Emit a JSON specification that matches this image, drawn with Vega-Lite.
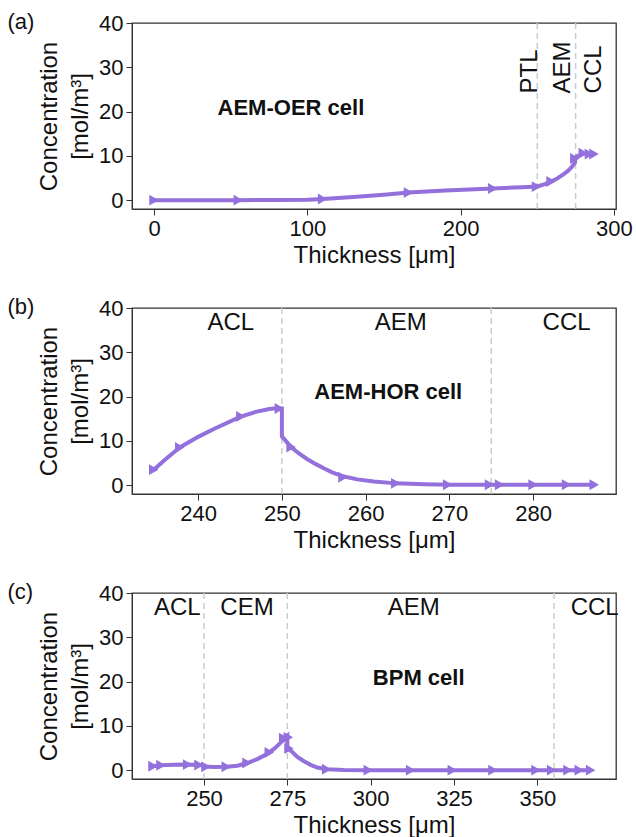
{
  "$schema": "https://vega.github.io/schema/vega-lite/v6.json",
  "background": "white",
  "padding": {"left": 6, "top": 10, "right": 2, "bottom": 2},
  "spacing": 27,
  "config": {
    "font": "Liberation Sans",
    "view": {"stroke": "#333333", "strokeWidth": 1.3},
    "axis": {"grid": false, "labelFontSize": 22, "titleFontSize": 24, "titleFontWeight": "normal", "labelColor": "#111111", "titleColor": "#111111", "tickColor": "#333333", "domainColor": "#333333", "tickSize": 6, "labelPadding": 3, "titleLineHeight": 31},
    "title": {"fontSize": 22, "fontWeight": "normal", "anchor": "start", "frame": "bounds", "color": "#111111"}
  },
  "datasets": {
    "a_line": [
      {"i": 1, "x": 0, "y": 0}, {"i": 2, "x": 20, "y": 0}, {"i": 3, "x": 55, "y": 0}, {"i": 4, "x": 80, "y": 0.02}, {"i": 5, "x": 100, "y": 0.1}, {"i": 6, "x": 110, "y": 0.25}, {"i": 7, "x": 130, "y": 0.7}, {"i": 8, "x": 150, "y": 1.2}, {"i": 9, "x": 166, "y": 1.7}, {"i": 10, "x": 190, "y": 2.2}, {"i": 11, "x": 221, "y": 2.65}, {"i": 12, "x": 240, "y": 2.9}, {"i": 13, "x": 250, "y": 3.1}, {"i": 14, "x": 255, "y": 3.6}, {"i": 15, "x": 259, "y": 4.2}, {"i": 16, "x": 263, "y": 4.9}, {"i": 17, "x": 267, "y": 5.8}, {"i": 18, "x": 270, "y": 6.6}, {"i": 19, "x": 272.5, "y": 7.5}, {"i": 20, "x": 274.5, "y": 8.4}, {"i": 21, "x": 275, "y": 9.6}, {"i": 22, "x": 276, "y": 9.9}, {"i": 23, "x": 278, "y": 10.2}, {"i": 24, "x": 280, "y": 10.6}, {"i": 25, "x": 282, "y": 10.4}, {"i": 26, "x": 284, "y": 10.4}, {"i": 27, "x": 287, "y": 10.4}
    ],
    "a_arrows": [
      {"x": 0, "y": 0}, {"x": 55, "y": 0}, {"x": 110, "y": 0.25}, {"x": 166, "y": 1.7}, {"x": 221, "y": 2.65}, {"x": 249.5, "y": 3.05}, {"x": 259, "y": 4.2}, {"x": 274.5, "y": 9.4}, {"x": 280, "y": 10.6}, {"x": 284, "y": 10.4}, {"x": 287, "y": 10.4}
    ],
    "b_line": [
      {"i": 1, "x": 234.7, "y": 3.5}, {"i": 2, "x": 236, "y": 5.7}, {"i": 3, "x": 237.8, "y": 8.5}, {"i": 4, "x": 240, "y": 10.9}, {"i": 5, "x": 242, "y": 12.8}, {"i": 6, "x": 245, "y": 15.4}, {"i": 7, "x": 247, "y": 16.6}, {"i": 8, "x": 248.5, "y": 17.2}, {"i": 9, "x": 249.6, "y": 17.4}, {"i": 10, "x": 250, "y": 17.3}, {"i": 11, "x": 250, "y": 11.0}, {"i": 12, "x": 251.1, "y": 8.6}, {"i": 13, "x": 252, "y": 7.2}, {"i": 14, "x": 253, "y": 5.9}, {"i": 15, "x": 254, "y": 4.8}, {"i": 16, "x": 255, "y": 3.8}, {"i": 17, "x": 256, "y": 2.9}, {"i": 18, "x": 257.3, "y": 2.0}, {"i": 19, "x": 259, "y": 1.3}, {"i": 20, "x": 261, "y": 0.8}, {"i": 21, "x": 263.6, "y": 0.4}, {"i": 22, "x": 267, "y": 0.2}, {"i": 23, "x": 270, "y": 0.1}, {"i": 24, "x": 275, "y": 0.08}, {"i": 25, "x": 280, "y": 0.08}, {"i": 26, "x": 287.3, "y": 0.08}
    ],
    "b_arrows": [
      {"x": 234.7, "y": 3.5}, {"x": 237.8, "y": 8.5}, {"x": 245.1, "y": 15.5}, {"x": 249.7, "y": 17.3}, {"x": 251.1, "y": 8.6}, {"x": 257.3, "y": 1.8}, {"x": 263.6, "y": 0.4}, {"x": 269.8, "y": 0.1}, {"x": 274.8, "y": 0.08}, {"x": 276, "y": 0.08}, {"x": 280, "y": 0.08}, {"x": 284, "y": 0.08}, {"x": 287.3, "y": 0.08}
    ],
    "c_line": [
      {"i": 1, "x": 234.7, "y": 0.9}, {"i": 2, "x": 237, "y": 1.1}, {"i": 3, "x": 241, "y": 1.2}, {"i": 4, "x": 245, "y": 1.25}, {"i": 5, "x": 249.5, "y": 1.1}, {"i": 6, "x": 250, "y": 0.8}, {"i": 7, "x": 253, "y": 0.7}, {"i": 8, "x": 257, "y": 0.75}, {"i": 9, "x": 260, "y": 1.0}, {"i": 10, "x": 263, "y": 1.6}, {"i": 11, "x": 266, "y": 2.5}, {"i": 12, "x": 269, "y": 3.7}, {"i": 13, "x": 271, "y": 4.8}, {"i": 14, "x": 273, "y": 6.2}, {"i": 15, "x": 274.5, "y": 7.5}, {"i": 16, "x": 275, "y": 7.8}, {"i": 17, "x": 275, "y": 5.0}, {"i": 18, "x": 276.5, "y": 4.1}, {"i": 19, "x": 278, "y": 3.0}, {"i": 20, "x": 280, "y": 2.0}, {"i": 21, "x": 282, "y": 1.2}, {"i": 22, "x": 284, "y": 0.6}, {"i": 23, "x": 287, "y": 0.2}, {"i": 24, "x": 292, "y": 0.05}, {"i": 25, "x": 300, "y": 0}, {"i": 26, "x": 366, "y": 0}
    ],
    "c_arrows": [
      {"x": 234.7, "y": 0.9}, {"x": 237.1, "y": 1.1}, {"x": 245.1, "y": 1.25}, {"x": 248.5, "y": 1.15}, {"x": 250.6, "y": 0.75}, {"x": 256.7, "y": 0.75}, {"x": 262.9, "y": 1.6}, {"x": 269.6, "y": 4.0}, {"x": 273.9, "y": 7.2}, {"x": 275.3, "y": 7.4}, {"x": 275.5, "y": 4.9}, {"x": 286.8, "y": 0.2}, {"x": 299.3, "y": 0}, {"x": 312, "y": 0}, {"x": 324.5, "y": 0}, {"x": 336.7, "y": 0}, {"x": 349.6, "y": 0}, {"x": 354.3, "y": 0}, {"x": 359.2, "y": 0}, {"x": 362.6, "y": 0}, {"x": 366, "y": 0}
    ]
  },
  "vconcat": [
    {
      "width": 484, "height": 186,
      "title": {"text": "(a)", "dx": -30, "offset": -22},
      "layer": [
        {
          "data": {"values": [{"x": 250}, {"x": 275}]},
          "mark": {"type": "rule", "color": "#cccccc", "strokeDash": [6, 4], "strokeWidth": 1.5},
          "encoding": {"x": {"field": "x", "type": "quantitative", "scale": {"domain": [-14.35, 301.35], "nice": false, "zero": false}, "axis": {"values": [0, 100, 200, 300], "title": "Thickness [μm]"}}}
        },
        {
          "data": {"name": "a_line"},
          "mark": {"type": "line", "color": "#9370DB", "strokeWidth": 4},
          "encoding": {
            "x": {"field": "x", "type": "quantitative", "scale": {"domain": [-14.35, 301.35], "nice": false, "zero": false}, "axis": {"values": [0, 100, 200, 300], "title": "Thickness [μm]"}},
            "y": {"field": "y", "type": "quantitative", "scale": {"domain": [-2, 40], "nice": false, "zero": false}, "axis": {"values": [0, 10, 20, 30, 40], "title": ["Concentration", "[mol/m³]"], "titlePadding": 6}},
            "order": {"field": "i", "type": "quantitative"}
          }
        },
        {
          "data": {"name": "a_arrows"},
          "mark": {"type": "point", "shape": "triangle-right", "filled": true, "color": "#9370DB", "size": 120, "opacity": 1},
          "encoding": {"x": {"field": "x", "type": "quantitative"}, "y": {"field": "y", "type": "quantitative"}}
        },
        {
          "data": {"values": [{"x": 245.3, "y": 24.1, "label": "PTL"}, {"x": 266.7, "y": 24.1, "label": "AEM"}, {"x": 287.2, "y": 24.1, "label": "CCL"}]},
          "mark": {"type": "text", "angle": 270, "align": "left", "baseline": "middle", "fontSize": 24, "color": "#111111"},
          "encoding": {"x": {"field": "x", "type": "quantitative"}, "y": {"field": "y", "type": "quantitative"}, "text": {"field": "label"}}
        },
        {
          "data": {"values": [{"x": 89.3, "y": 20.7, "label": "AEM-OER cell"}]},
          "mark": {"type": "text", "align": "center", "baseline": "middle", "fontSize": 22, "fontWeight": "bold", "color": "#111111"},
          "encoding": {"x": {"field": "x", "type": "quantitative"}, "y": {"field": "y", "type": "quantitative"}, "text": {"field": "label"}}
        }
      ]
    },
    {
      "width": 484, "height": 186,
      "title": {"text": "(b)", "dx": -30, "offset": -22},
      "layer": [
        {
          "data": {"values": [{"x": 250}, {"x": 275}]},
          "mark": {"type": "rule", "color": "#cccccc", "strokeDash": [6, 4], "strokeWidth": 1.5},
          "encoding": {"x": {"field": "x", "type": "quantitative", "scale": {"domain": [232.1, 289.9], "nice": false, "zero": false}, "axis": {"values": [240, 250, 260, 270, 280], "title": "Thickness [μm]"}}}
        },
        {
          "data": {"name": "b_line"},
          "mark": {"type": "line", "color": "#9370DB", "strokeWidth": 4},
          "encoding": {
            "x": {"field": "x", "type": "quantitative", "scale": {"domain": [232.1, 289.9], "nice": false, "zero": false}, "axis": {"values": [240, 250, 260, 270, 280], "title": "Thickness [μm]"}},
            "y": {"field": "y", "type": "quantitative", "scale": {"domain": [-2, 40], "nice": false, "zero": false}, "axis": {"values": [0, 10, 20, 30, 40], "title": ["Concentration", "[mol/m³]"], "titlePadding": 6}},
            "order": {"field": "i", "type": "quantitative"}
          }
        },
        {
          "data": {"name": "b_arrows"},
          "mark": {"type": "point", "shape": "triangle-right", "filled": true, "color": "#9370DB", "size": 120, "opacity": 1},
          "encoding": {"x": {"field": "x", "type": "quantitative"}, "y": {"field": "y", "type": "quantitative"}}
        },
        {
          "data": {"values": [{"x": 243.9, "y": 36.6, "label": "ACL"}, {"x": 264.2, "y": 36.6, "label": "AEM"}, {"x": 284, "y": 36.6, "label": "CCL"}]},
          "mark": {"type": "text", "align": "center", "baseline": "middle", "fontSize": 24, "color": "#111111"},
          "encoding": {"x": {"field": "x", "type": "quantitative"}, "y": {"field": "y", "type": "quantitative"}, "text": {"field": "label"}}
        },
        {
          "data": {"values": [{"x": 262.7, "y": 21.1, "label": "AEM-HOR cell"}]},
          "mark": {"type": "text", "align": "center", "baseline": "middle", "fontSize": 22, "fontWeight": "bold", "color": "#111111"},
          "encoding": {"x": {"field": "x", "type": "quantitative"}, "y": {"field": "y", "type": "quantitative"}, "text": {"field": "label"}}
        }
      ]
    },
    {
      "width": 484, "height": 186,
      "title": {"text": "(c)", "dx": -30, "offset": -22},
      "layer": [
        {
          "data": {"values": [{"x": 250}, {"x": 275}, {"x": 355}]},
          "mark": {"type": "rule", "color": "#cccccc", "strokeDash": [6, 4], "strokeWidth": 1.5},
          "encoding": {"x": {"field": "x", "type": "quantitative", "scale": {"domain": [228.4, 373.6], "nice": false, "zero": false}, "axis": {"values": [250, 275, 300, 325, 350], "title": "Thickness [μm]"}}}
        },
        {
          "data": {"name": "c_line"},
          "mark": {"type": "line", "color": "#9370DB", "strokeWidth": 4},
          "encoding": {
            "x": {"field": "x", "type": "quantitative", "scale": {"domain": [228.4, 373.6], "nice": false, "zero": false}, "axis": {"values": [250, 275, 300, 325, 350], "title": "Thickness [μm]"}},
            "y": {"field": "y", "type": "quantitative", "scale": {"domain": [-2, 40], "nice": false, "zero": false}, "axis": {"values": [0, 10, 20, 30, 40], "title": ["Concentration", "[mol/m³]"], "titlePadding": 6}},
            "order": {"field": "i", "type": "quantitative"}
          }
        },
        {
          "data": {"name": "c_arrows"},
          "mark": {"type": "point", "shape": "triangle-right", "filled": true, "color": "#9370DB", "size": 120, "opacity": 1},
          "encoding": {"x": {"field": "x", "type": "quantitative"}, "y": {"field": "y", "type": "quantitative"}}
        },
        {
          "data": {"values": [{"x": 242, "y": 36.7, "label": "ACL"}, {"x": 262.9, "y": 36.7, "label": "CEM"}, {"x": 312.9, "y": 36.7, "label": "AEM"}, {"x": 367.2, "y": 36.7, "label": "CCL"}]},
          "mark": {"type": "text", "align": "center", "baseline": "middle", "fontSize": 24, "color": "#111111"},
          "encoding": {"x": {"field": "x", "type": "quantitative"}, "y": {"field": "y", "type": "quantitative"}, "text": {"field": "label"}}
        },
        {
          "data": {"values": [{"x": 314.4, "y": 20.7, "label": "BPM cell"}]},
          "mark": {"type": "text", "align": "center", "baseline": "middle", "fontSize": 22, "fontWeight": "bold", "color": "#111111"},
          "encoding": {"x": {"field": "x", "type": "quantitative"}, "y": {"field": "y", "type": "quantitative"}, "text": {"field": "label"}}
        }
      ]
    }
  ]
}
